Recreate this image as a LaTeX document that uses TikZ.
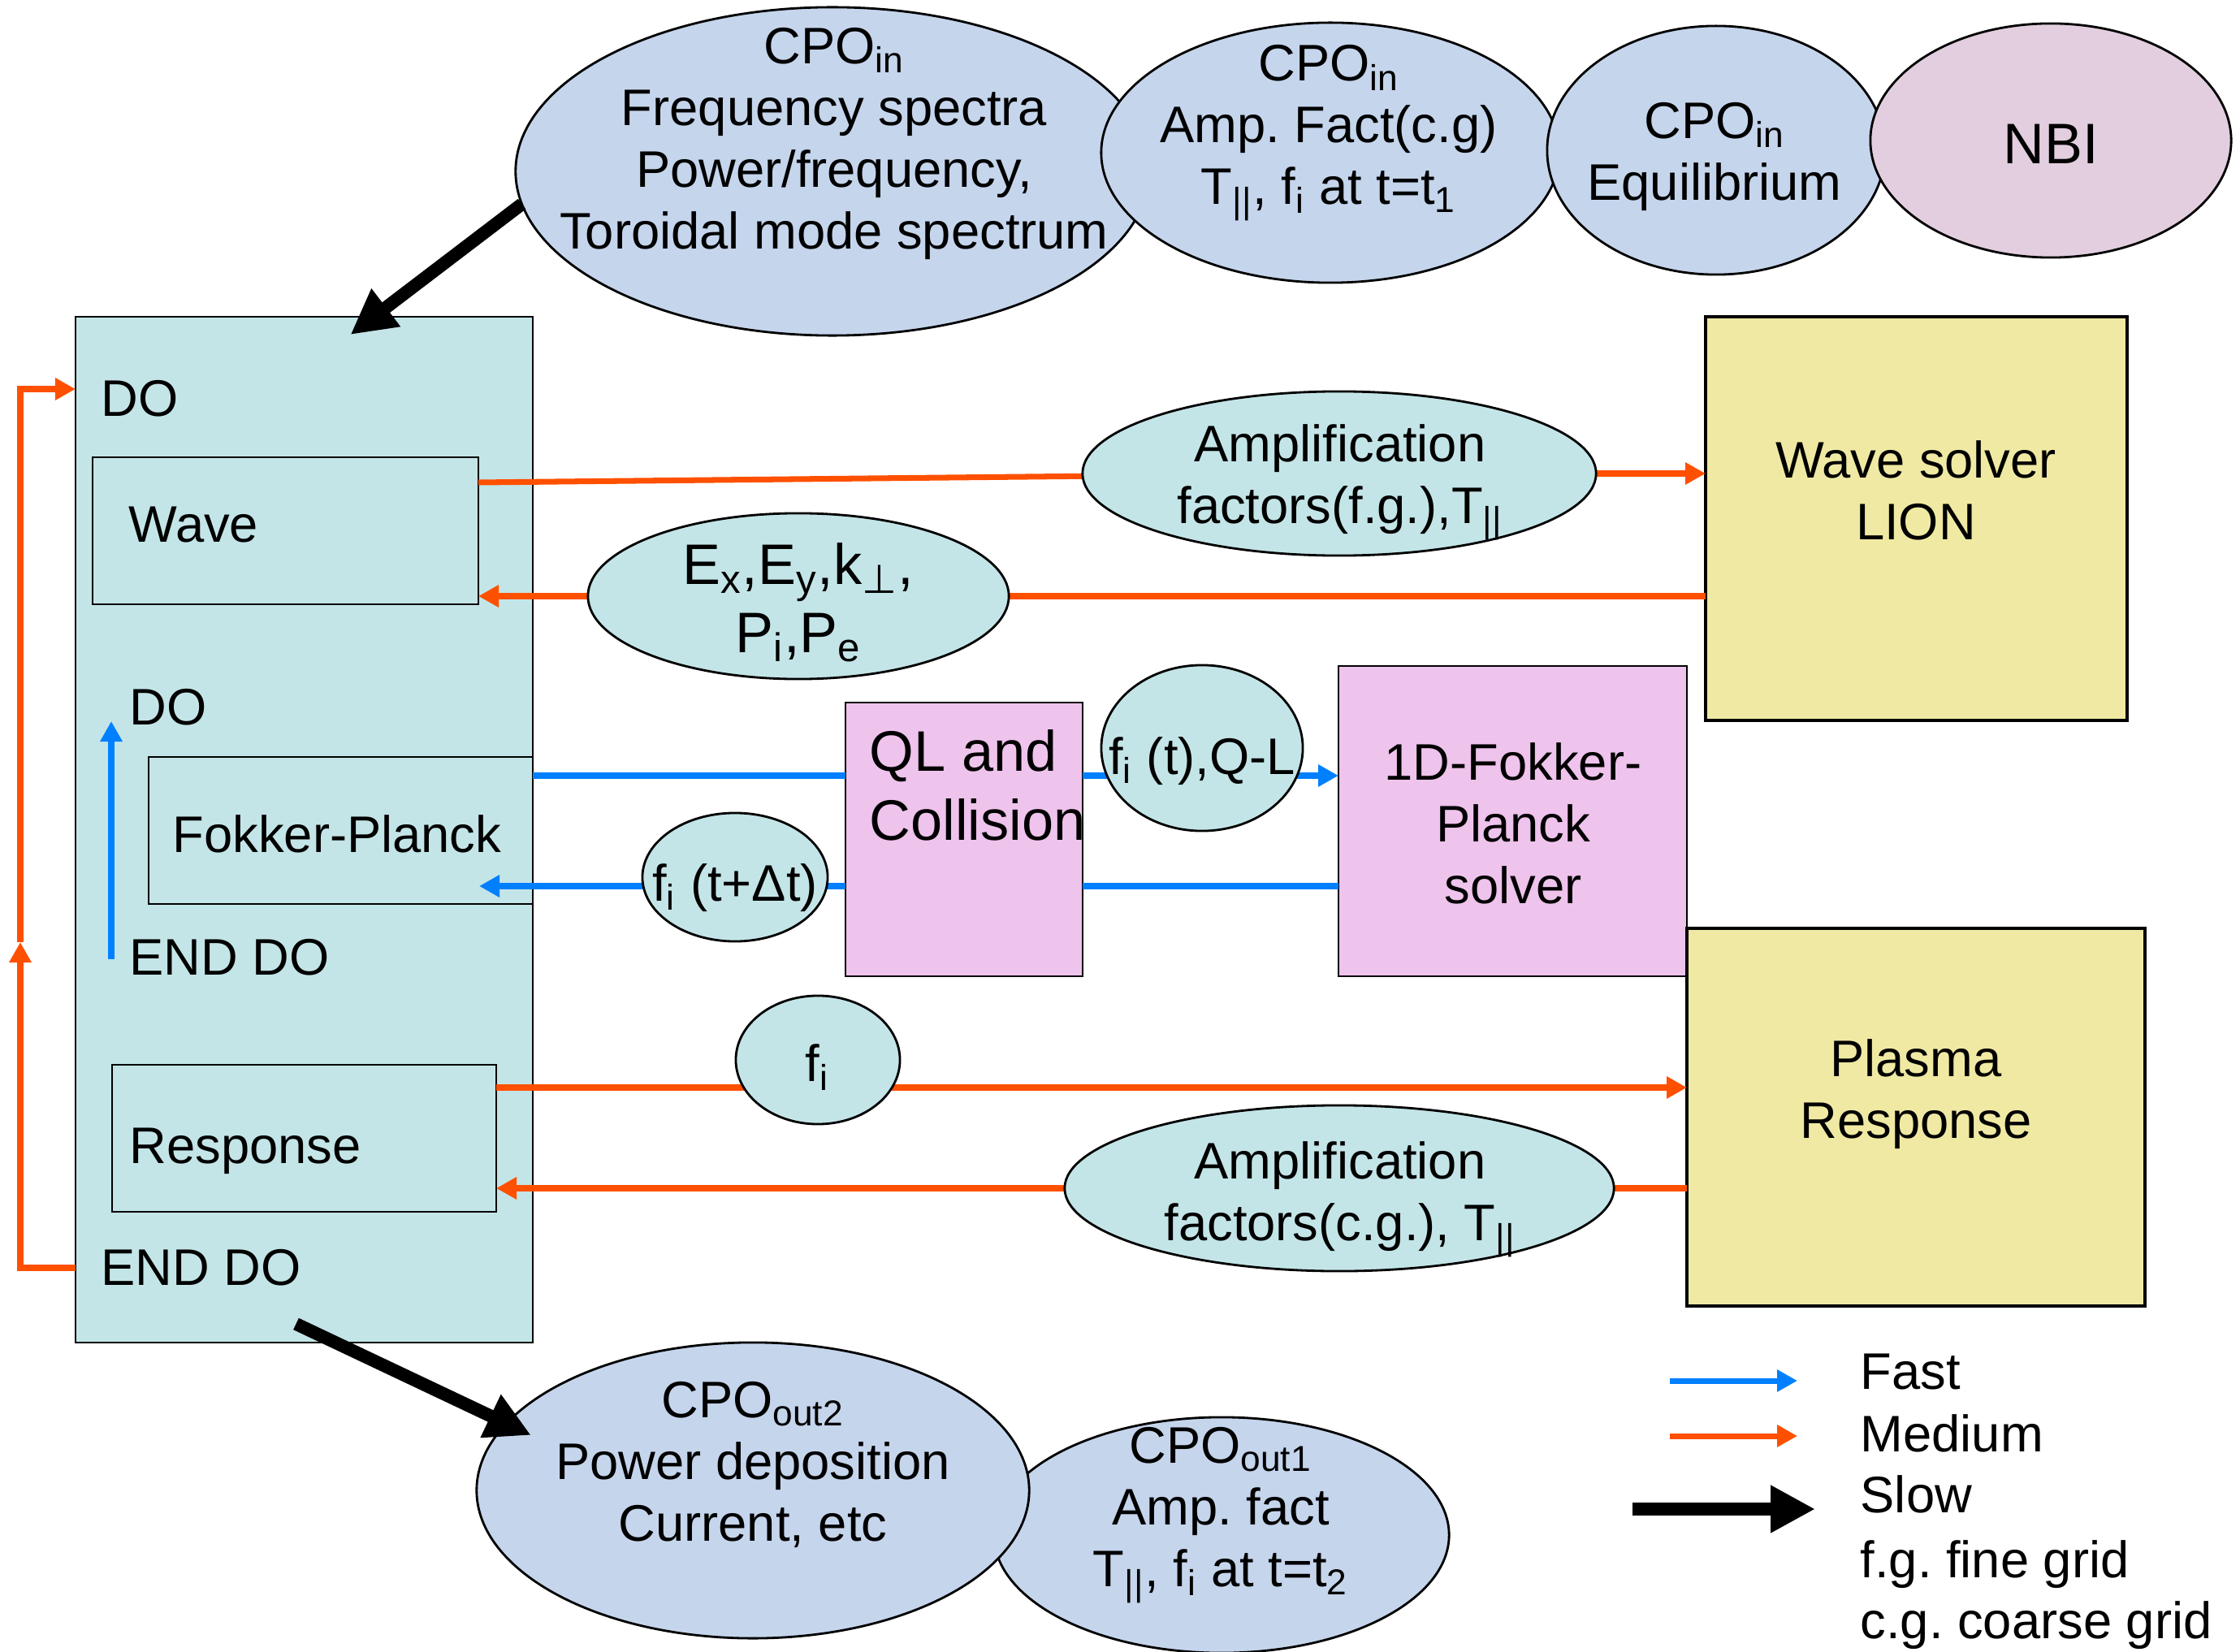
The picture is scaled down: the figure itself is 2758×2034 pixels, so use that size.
\documentclass[tikz,border=0pt]{standalone}
\usepackage{fontspec}
\setmainfont{Liberation Sans}
\newfontfamily\dejavu{DejaVu Sans}
\usetikzlibrary{shapes.geometric,arrows.meta,fit,calc}
\pgfdeclarelayer{bg}
\pgfdeclarelayer{fg}
\pgfsetlayers{bg,main,fg}
\definecolor{tealf}{HTML}{C4E5E7}
\definecolor{cpob}{HTML}{C5D5EC}
\definecolor{nbip}{HTML}{E2CEDE}
\definecolor{yelf}{HTML}{F0E9A3}
\definecolor{pinkf}{HTML}{EEC3EC}
\definecolor{orng}{HTML}{FF5000}
\definecolor{blu}{HTML}{0080FF}
\frenchspacing
\begin{document}
\frenchspacing
\begin{tikzpicture}[x=0.01cm,y=-0.01cm,
 txt/.style={inner sep=0pt, font=\fontsize{18}{21.6}\selectfont\frenchspacing, align=center},
 lt/.style={txt, anchor=west},
 boxr/.style={draw, line width=0.8pt, inner sep=0pt, outer sep=0pt},
 ell/.style={ellipse, draw, line width=0.8pt, inner sep=0pt, outer sep=0pt},
 med/.style={draw=orng, line width=2pt},
 fast/.style={draw=blu, line width=2pt},
 medarr/.style={med, -{Triangle[length=0.25cm,width=0.26cm]}},
 fastarr/.style={fast, -{Triangle[length=0.25cm,width=0.26cm]}},
 slow/.style={line width=4.5pt, -{Triangle[length=0.55cm,width=0.55cm]}},
]
\useasboundingbox (0,0) rectangle (2758,2034);

% ---------- boxes ----------
\begin{pgfonlayer}{bg}
\node[boxr, fill=tealf, fit={(93,390) (656,1653)}] (main) {};
\node[boxr, fill=tealf, fit={(114,563) (589,744)}] (wave) {};
\node[boxr, fill=tealf, fit={(183,932) (656,1113)}] (fp) {};
\node[boxr, fill=tealf, fit={(138,1311) (611,1492)}] (resp) {};
\node[boxr, fill=yelf, line width=1pt, fit={(2100,390) (2619,887)}] (ws) {};
\node[boxr, fill=pinkf, fit={(1041,865) (1333,1202)}] (ql) {};
\node[boxr, fill=pinkf, fit={(1648,820) (2077,1202)}] (fp1d) {};
\node[boxr, fill=yelf, line width=1pt, fit={(2077,1143) (2641,1608)}] (plasma) {};
\end{pgfonlayer}

% ---------- ellipses ----------
\begin{pgfonlayer}{fg}
\node[ell, fill=cpob, minimum width=7.8cm, minimum height=4.04cm] (e1) at (1025,211) {};
\node[ell, fill=cpob, minimum width=5.64cm, minimum height=3.2cm] (e2) at (1638,188) {};
\node[ell, fill=cpob, minimum width=4.16cm, minimum height=3.06cm] (e3) at (2113,185) {};
\node[ell, fill=nbip, minimum width=4.44cm, minimum height=2.88cm] (nbi) at (2525,173) {};
\node[ell, fill=tealf, minimum width=6.32cm, minimum height=2.02cm] (amp1) at (1649,583) {};
\node[ell, fill=tealf, minimum width=5.18cm, minimum height=2.04cm] (exy) at (983,734) {};
\node[ell, fill=tealf, minimum width=2.48cm, minimum height=2.04cm] (fit1) at (1480,921) {};
\node[ell, fill=tealf, minimum width=2.28cm, minimum height=1.58cm] (fit2) at (905,1080) {};
\node[ell, fill=tealf, minimum width=2.02cm, minimum height=1.58cm] (fi) at (1007,1305) {};
\node[ell, fill=tealf, minimum width=6.76cm, minimum height=2.04cm] (ampcg) at (1649,1463) {};
\node[ell, fill=cpob, minimum width=5.6cm, minimum height=2.9cm] (out1) at (1504,1890) {};
\node[ell, fill=cpob, minimum width=6.8cm, minimum height=3.64cm] (out2) at (927,1835) {};

% ---------- texts ----------
\node[txt] (e1t) at (1027,177) {CPO\textsubscript{in}\\Frequency spectra\\Power/frequency,\\Toroidal mode spectrum};
\node[txt] (e2t) at (1636,164) {CPO\textsubscript{in}\\Amp. Fact(c.g)\\T\textsubscript{||}, f\textsubscript{i} at t=t\textsubscript{1}};
\node[txt] (e3t) at (2111,193) {CPO\textsubscript{in}\\Equilibrium};
\node[txt, font=\fontsize{20}{24}\selectfont] (nbit) at (2525,177) {NBI};
\node[lt] (do1) at (124,491) {DO};
\node[lt] (wavet) at (158,646) {Wave};
\node[lt] (do2) at (159,871) {DO};
\node[lt] (fpt) at (212,1027) {Fokker-Planck};
\node[lt] (enddo2) at (159,1179) {END DO};
\node[lt] (respt) at (159,1417) {Response};
\node[lt] (enddo1) at (124,1561) {END DO};
\node[txt] (amp1t) at (1650,594) {Amplification\\factors(f.g.),T\textsubscript{||}};
\node[txt, font=\fontsize{20}{24}\selectfont] (exyt) at (983,742) {E\textsubscript{x},E\textsubscript{y},k\textsubscript{{\dejavu ⊥}},\\P\textsubscript{i},P\textsubscript{e}};
\node[txt] (wst) at (2359,604) {Wave solver\\LION};
\node[txt, align=left, anchor=north west, font=\fontsize{20}{24.2}\selectfont] (qlt) at (1070,898) {QL and\\Collision};
\node[txt] (fit1t) at (1480,937) {f\textsubscript{i} (t),Q-L};
\node[txt] (fp1dt) at (1863,1014) {1D-Fokker-\\Planck\\solver};
\node[txt] (fit2t) at (905,1093) {f\textsubscript{i} (t+Δt)};
\node[txt] (fit) at (1006,1314) {f\textsubscript{i}};
\node[txt] (plasmat) at (2359,1347) {Plasma\\Response};
\node[txt] (ampcgt) at (1650,1477) {Amplification\\factors(c.g.), T\textsubscript{||}};
\node[txt] (out2t) at (927,1803) {CPO\textsubscript{out2}\\Power deposition\\Current, etc};
\node[txt] (out1t) at (1503,1866) {CPO\textsubscript{out1}\\Amp. fact\\T\textsubscript{||}, f\textsubscript{i} at t=t\textsubscript{2}};

% legend
\node[txt, anchor=base west] (lgf) at (2290,1710) {Fast};
\node[txt, anchor=base west] (lgm) at (2290,1787) {Medium};
\node[txt, anchor=base west] (lgs) at (2290,1862) {Slow};
\node[txt, anchor=base west] (lgfg) at (2290,1942) {f.g. fine grid};
\node[txt, anchor=base west] (lgcg) at (2290,2017) {c.g. coarse grid};

% slow arrows
\draw[slow] (e1.186) -- ($(main.north)+(57,22)$);
\draw[slow] ($(main.south)+(-10,-23)$) -- ($(out2.west)+(67,-68)$);
\coordinate (lgsa) at (2010,1858);
\draw[slow] (lgsa) -- ++(225,0);
\end{pgfonlayer}

% ---------- connectors ----------
\coordinate (rowA) at (0,955);
\coordinate (rowB) at (0,1091);
\coordinate (rowF) at (0,1339);
\draw[med] ($(wave.east |- amp1)+(0,11)$) -- (amp1.center);
\draw[medarr] (amp1.center) -- (ws.west |- amp1);
\draw[medarr] (ws.west |- exy) -- (wave.east |- exy);
\draw[fast] (fp.east |- rowA) -- (ql.west |- rowA);
\draw[fastarr] (ql.east |- rowA) -- (fp1d.west |- rowA);
\draw[fast] (fp1d.west |- rowB) -- (ql.east |- rowB);
\draw[fastarr] (ql.west |- rowB) -- ($(fp.east |- rowB)+(-66,0)$);
\draw[medarr] (resp.east |- rowF) -- (plasma.west |- rowF);
\draw[medarr] (plasma.west |- ampcg) -- (resp.east |- ampcg);
% loops
\draw[medarr] (main.west |- enddo1) -- ++(-68,0) -- ++(0,-401);
\draw[medarr] (main.west |- enddo1) ++(-68,-401) |- ($(main.west |- do1)+(0,-12)$);
\draw[fastarr] ($(enddo2.west)+(-22,2)$) -- ($(do2.west)+(-22,17)$);
% legend arrows
\coordinate (lgfa) at (2056,1700);
\coordinate (lgma) at (2056,1768);
\draw[fastarr] (lgfa) -- ++(157,0);
\draw[medarr] (lgma) -- ++(157,0);
\end{tikzpicture}
\end{document}
